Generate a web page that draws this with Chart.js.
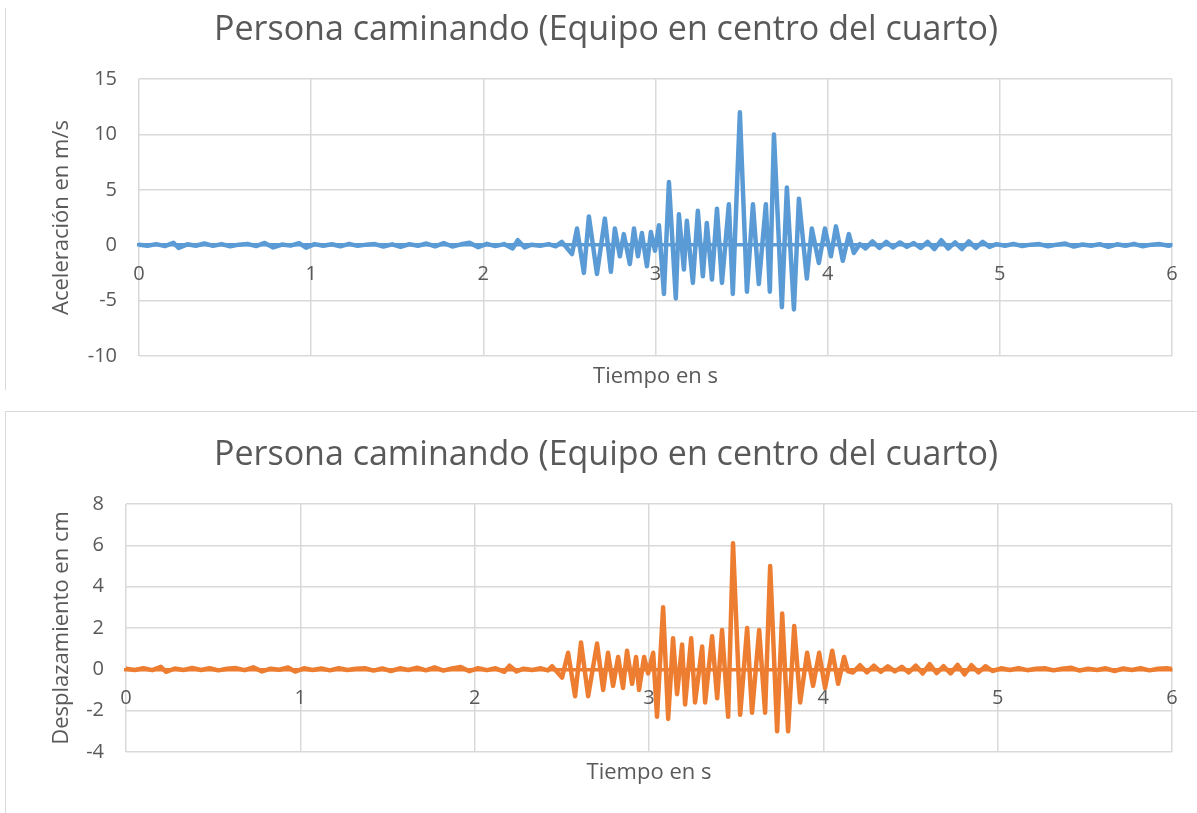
<!DOCTYPE html>
<html>
<head>
<meta charset="utf-8">
<script src="https://cdn.jsdelivr.net/npm/chart.js@4/dist/chart.umd.min.js"></script>
<style>
  html, body { margin: 0; padding: 0; background: #fff; }
  body { width: 1197px; height: 813px; position: relative; overflow: hidden; }
  .frame { position: absolute; border: 0 solid #d9d9d9; }
  canvas { position: absolute; }
</style>
</head>
<body>
<div class="frame" style="left:5px; top:8px; width:0; height:382px; border-left-width:1px;"></div>
<div class="frame" style="left:5px; top:411px; width:1192px; height:402px; border-left-width:1px; border-top-width:1px;"></div>
<canvas id="acel" width="1192" height="395" style="left:5px; top:0;"></canvas>
<canvas id="desp" width="1192" height="401" style="left:5px; top:412px;"></canvas>
<script>
// Tiempo (s) y aceleración (m/s) registrados con el equipo en el centro del cuarto
const tiempoAcel = [
  0.00, 0.05, 0.10, 0.15, 0.20, 0.23, 0.28, 0.33, 0.38, 0.43, 0.48, 0.53, 0.58, 0.63, 0.68, 0.73, 0.78, 0.83, 0.88, 0.93,
  0.97, 1.02, 1.07, 1.12, 1.17, 1.22, 1.27, 1.32, 1.37, 1.42, 1.47, 1.52, 1.57, 1.62, 1.67, 1.72, 1.77, 1.82, 1.87, 1.92,
  1.97, 2.02, 2.07, 2.12, 2.17, 2.20, 2.24, 2.28, 2.33, 2.38, 2.42,
  2.456, 2.515, 2.544, 2.584, 2.613, 2.660, 2.706, 2.741, 2.764, 2.793, 2.816, 2.851, 2.875, 2.898, 2.921, 2.950, 2.973, 2.997,
  3.020, 3.049, 3.078, 3.118, 3.136, 3.165, 3.182, 3.217, 3.246, 3.275, 3.298, 3.328, 3.357, 3.386, 3.426, 3.449, 3.490,
  3.531, 3.566, 3.600, 3.641, 3.664, 3.688, 3.734, 3.763, 3.804, 3.833, 3.879, 3.908, 3.949, 3.984, 4.019, 4.048, 4.088,
  4.123, 4.152, 4.187,
  4.22, 4.26, 4.30, 4.34, 4.38, 4.42, 4.46, 4.50, 4.54, 4.58, 4.62, 4.66, 4.70, 4.74, 4.78, 4.82, 4.86, 4.90, 4.94, 4.98,
  5.03, 5.08, 5.13, 5.18, 5.23, 5.28, 5.33, 5.38, 5.43, 5.48, 5.53, 5.58, 5.63, 5.68, 5.73, 5.78, 5.83, 5.88, 5.93, 5.98, 6.00
];
const aceleracion = [
  0.05, -0.05, 0.10, -0.08, 0.22, -0.25, 0.08, -0.05, 0.15, -0.06, 0.10, -0.10, 0.05, 0.12, -0.08, 0.20, -0.20, 0.06, -0.04, 0.18,
  -0.22, 0.10, -0.05, 0.08, -0.10, 0.12, -0.06, 0.05, 0.10, -0.12, 0.08, -0.15, 0.10, -0.05, 0.15, -0.10, 0.20, -0.12, 0.08, 0.22,
  -0.18, 0.12, -0.08, 0.10, -0.30, 0.45, -0.20, 0.05, -0.05, 0.10, -0.10,
  0.3, -0.8, 1.5, -2.5, 2.6, -2.6, 2.4, -2.4, 1.5, -1.0, 1.0, -1.7, 1.5, -1.0, 1.1, -1.9, 1.2, -0.5,
  1.8, -4.4, 5.7, -4.8, 2.8, -2.2, 2.2, -3.4, 3.1, -2.8, 2.0, -3.1, 3.3, -3.4, 3.7, -4.4, 12.0,
  -4.2, 3.7, -3.5, 3.7, -4.2, 10.0, -5.6, 5.2, -5.8, 4.2, -3.0, 1.5, -1.6, 1.5, -1.0, 1.7, -1.4,
  1.0, -0.7, 0.1,
  -0.30, 0.35, -0.25, 0.30, -0.20, 0.25, -0.15, 0.20, -0.25, 0.30, -0.35, 0.45, -0.30, 0.25, -0.35, 0.35, -0.25, 0.30, -0.15, 0.10,
  -0.05, 0.12, -0.08, 0.05, 0.10, -0.10, 0.05, 0.15, -0.12, 0.06, -0.05, 0.10, -0.15, 0.08, -0.05, 0.12, -0.10, 0.05, 0.10, -0.05, 0.02
];

// Tiempo (s) y desplazamiento (cm) del mismo registro
const tiempoDesp = [
  0.00, 0.05, 0.10, 0.15, 0.20, 0.23, 0.28, 0.33, 0.38, 0.43, 0.48, 0.53, 0.58, 0.63, 0.68, 0.73, 0.78, 0.83, 0.88, 0.93,
  0.97, 1.02, 1.07, 1.12, 1.17, 1.22, 1.27, 1.32, 1.37, 1.42, 1.47, 1.52, 1.57, 1.62, 1.67, 1.72, 1.77, 1.82, 1.87, 1.92,
  1.97, 2.02, 2.07, 2.12, 2.17, 2.20, 2.24, 2.28, 2.33, 2.38, 2.42,
  2.444, 2.501, 2.536, 2.576, 2.610, 2.651, 2.702, 2.737, 2.765, 2.794, 2.823, 2.851, 2.874, 2.903, 2.926, 2.943, 2.972, 2.995,
  3.024, 3.046, 3.081, 3.110, 3.138, 3.161, 3.190, 3.207, 3.242, 3.264, 3.305, 3.322, 3.362, 3.391, 3.419, 3.454, 3.482,
  3.523, 3.563, 3.591, 3.632, 3.666, 3.695, 3.735, 3.764, 3.798, 3.833, 3.867, 3.907, 3.941, 3.976, 4.010, 4.051, 4.085,
  4.119, 4.142,
  4.17, 4.21, 4.25, 4.29, 4.33, 4.37, 4.41, 4.45, 4.49, 4.53, 4.57, 4.61, 4.65, 4.69, 4.73, 4.77, 4.81, 4.85, 4.89, 4.93, 4.97,
  5.02, 5.07, 5.12, 5.17, 5.22, 5.27, 5.32, 5.37, 5.42, 5.47, 5.52, 5.57, 5.62, 5.67, 5.72, 5.77, 5.82, 5.87, 5.92, 5.97, 6.00
];
const desplazamiento = [
  0.03, -0.03, 0.05, -0.04, 0.12, -0.12, 0.04, -0.03, 0.07, -0.03, 0.05, -0.05, 0.03, 0.06, -0.04, 0.10, -0.10, 0.03, -0.02, 0.09,
  -0.11, 0.05, -0.03, 0.04, -0.05, 0.06, -0.03, 0.03, 0.05, -0.06, 0.04, -0.08, 0.05, -0.03, 0.08, -0.05, 0.10, -0.06, 0.04, 0.11,
  -0.09, 0.06, -0.04, 0.05, -0.12, 0.18, -0.10, 0.03, -0.03, 0.05, -0.05,
  0.15, -0.4, 0.8, -1.3, 1.3, -1.3, 1.25, -1.0, 0.8, -0.8, 0.6, -0.9, 0.9, -0.7, 0.6, -1.0, 0.6, -0.2,
  0.8, -2.3, 3.0, -2.4, 1.5, -1.2, 1.2, -1.7, 1.5, -1.6, 1.1, -1.6, 1.6, -1.4, 1.9, -2.3, 6.1,
  -2.2, 2.0, -2.1, 1.9, -2.1, 5.0, -3.0, 2.7, -3.0, 2.1, -1.6, 0.8, -0.8, 0.8, -0.9, 0.9, -0.7,
  0.6, -0.1,
  -0.15, 0.20, -0.15, 0.18, -0.12, 0.15, -0.10, 0.12, -0.15, 0.18, -0.20, 0.25, -0.18, 0.15, -0.20, 0.22, -0.25, 0.20, -0.15, 0.15, -0.08,
  0.05, -0.03, 0.06, -0.04, 0.03, 0.05, -0.05, 0.03, 0.08, -0.06, 0.03, -0.03, 0.05, -0.08, 0.04, -0.03, 0.06, -0.05, 0.03, 0.05, 0.01
];

// Límites del eje vertical: [mínimo, máximo, paso]
const ejeAcel = [-10, 15, 5];
const ejeDesp = [-4, 8, 2];
// Eje horizontal (s)
const ejeTiempo = [0, 6, 1];

const titulo = 'Persona caminando (Equipo en centro del cuarto)';
const tituloX = 'Tiempo en s';

const FONT = "'Open Sans', 'Noto Sans', sans-serif";
const TEXT = '#595959';
const GRID = '#d9d9d9';

function grafica(id, tiempos, valores, color, tituloY, eje, anchoEjeY, pad) {
  const puntos = tiempos.map((t, i) => ({ x: t, y: valores[i] }));
  return new Chart(document.getElementById(id), {
    type: 'scatter',
    data: {
      datasets: [{
        data: puntos,
        showLine: true,
        borderColor: color,
        backgroundColor: color,
        borderWidth: 4.5,
        borderJoinStyle: 'round',
        borderCapStyle: 'round',
        pointRadius: 0,
        tension: 0
      }]
    },
    options: {
      responsive: false,
      animation: false,
      devicePixelRatio: 1,
      layout: { padding: { left: 35, right: 25, top: 0, bottom: 0 } },
      plugins: {
        legend: { display: false },
        tooltip: { enabled: false },
        title: {
          display: true,
          text: titulo,
          color: TEXT,
          font: { family: FONT, size: 34, weight: 'normal', lineHeight: 1.2 },
          padding: { top: pad.tTop, bottom: pad.tBottom }
        },
        subtitle: {
          display: true,
          position: 'bottom',
          fullSize: false,
          text: tituloX,
          color: TEXT,
          font: { family: FONT, size: 22, weight: 'normal', lineHeight: 1.2 },
          padding: { top: pad.sTop, bottom: pad.sBottom }
        }
      },
      scales: {
        x: {
          type: 'linear',
          position: { y: 0 },
          min: ejeTiempo[0],
          max: ejeTiempo[1],
          ticks: {
            stepSize: ejeTiempo[2],
            color: TEXT,
            font: { family: FONT, size: 20 },
            padding: 17,
            maxRotation: 0
          },
          grid: { color: GRID, lineWidth: 1.5, drawTicks: false },
          border: { display: true, color: color, width: 3.5 },
          afterFit: (s) => { s.paddingLeft = 0; s.paddingRight = 0; }
        },
        y: {
          type: 'linear',
          position: 'left',
          min: eje[0],
          max: eje[1],
          ticks: {
            stepSize: eje[2],
            color: TEXT,
            font: { family: FONT, size: 20 },
            padding: 22
          },
          grid: { color: GRID, lineWidth: 1.5, drawTicks: false },
          border: { display: false },
          title: {
            display: true,
            text: tituloY,
            color: TEXT,
            font: { family: FONT, size: 22, weight: 'normal', lineHeight: 1.2 },
            padding: { top: 8.8, bottom: 4 }
          },
          afterFit: (s) => { s.width = anchoEjeY; }
        }
      }
    }
  });
}

grafica('acel', tiempoAcel, aceleracion, '#5B9BD5', 'Aceleración en m/s', ejeAcel, 99,
  { tTop: 9.6, tBottom: 28.6, sTop: 7.8, sBottom: 4.8 });
grafica('desp', tiempoDesp, desplazamiento, '#ED7D31', 'Desplazamiento en cm', ejeDesp, 86,
  { tTop: 22.6, tBottom: 28.6, sTop: 7.8, sBottom: 26.8 });
</script>
</body>
</html>
